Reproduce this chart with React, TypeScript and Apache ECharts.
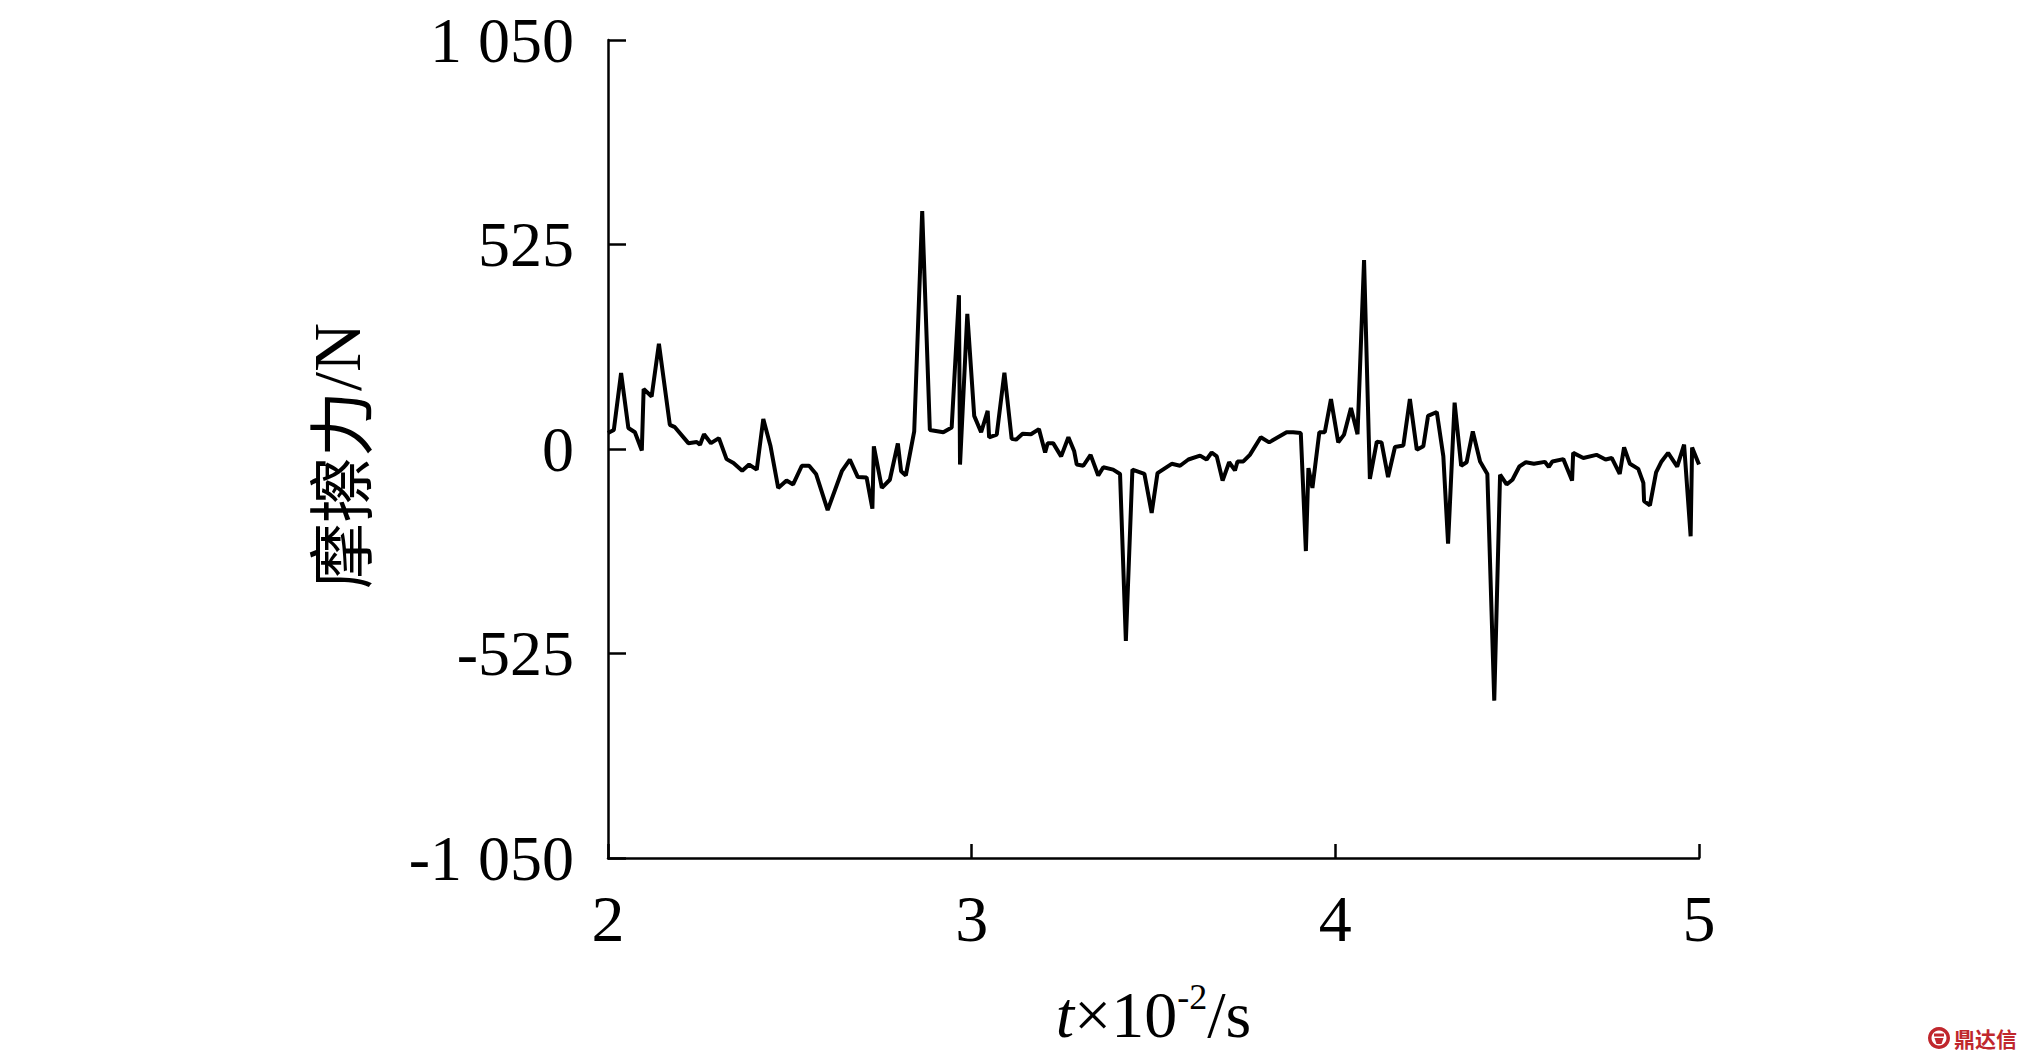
import React, { useEffect, useRef } from "react";
import * as echarts from "echarts";

// time in units of 10^-2 s
const timeValues: number[] = [
  2.000, 2.016, 2.036, 2.056, 2.074, 2.093, 2.098, 2.120, 2.140, 2.170,
  2.184, 2.221, 2.244, 2.253, 2.264, 2.283, 2.305, 2.326, 2.345, 2.369,
  2.388, 2.409, 2.427, 2.447, 2.468, 2.491, 2.509, 2.533, 2.553, 2.572,
  2.604, 2.643, 2.665, 2.687, 2.711, 2.727, 2.731, 2.753, 2.775, 2.797,
  2.806, 2.819, 2.842, 2.864, 2.885, 2.922, 2.945, 2.965, 2.968, 2.988,
  3.007, 3.026, 3.044, 3.048, 3.069, 3.090, 3.110, 3.122, 3.140, 3.163,
  3.185, 3.202, 3.209, 3.224, 3.246, 3.266, 3.282, 3.289, 3.307, 3.327,
  3.348, 3.362, 3.389, 3.408, 3.424, 3.442, 3.475, 3.495, 3.511, 3.550,
  3.573, 3.596, 3.628, 3.646, 3.660, 3.674, 3.690, 3.708, 3.724, 3.731,
  3.747, 3.765, 3.795, 3.818, 3.866, 3.884, 3.905, 3.919, 3.926, 3.937,
  3.956, 3.971, 3.988, 4.008, 4.024, 4.043, 4.061, 4.079, 4.095, 4.114,
  4.127, 4.145, 4.164, 4.187, 4.205, 4.224, 4.242, 4.255, 4.279, 4.297,
  4.310, 4.328, 4.346, 4.361, 4.378, 4.398, 4.418, 4.437, 4.453, 4.471,
  4.487, 4.506, 4.524, 4.546, 4.576, 4.587, 4.597, 4.627, 4.651, 4.654,
  4.682, 4.718, 4.743, 4.760, 4.782, 4.794, 4.810, 4.833, 4.847, 4.849,
  4.865, 4.882, 4.897, 4.915, 4.940, 4.959, 4.977, 4.981, 5.000,
];

// friction force, N
const forceValues: number[] = [
  41, 49, 195, 54, 43, -4, 154, 135, 270, 62,
  56, 15, 18, 11, 38, 15, 28, -26, -36, -56,
  -40, -53, 77, 7, -100, -81, -91, -43, -43, -64,
  -157, -57, -27, -72, -73, -153, 7, -100, -79, 14,
  -57, -68, 45, 611, 49, 43, 55, 395, -40, 347,
  85, 43, 98, 30, 37, 196, 26, 24, 39, 38,
  51, -9, 15, 15, -19, 30, -6, -40, -43, -15,
  -68, -47, -53, -64, -493, -53, -64, -164, -62, -38,
  -43, -27, -17, -27, -9, -19, -81, -34, -55, -32,
  -32, -15, 30, 17, 43, 43, 41, -262, -49, -100,
  43, 43, 128, 17, 37, 105, 38, 485, -77, 19,
  17, -72, 5, 9, 128, -2, 7, 85, 95, -19,
  -243, 119, -43, -34, 45, -32, -64, -646, -66, -91,
  -79, -45, -34, -38, -33, -46, -32, -26, -81, -10,
  -23, -15, -27, -23, -64, 4, -38, -51, -87, -134,
  -145, -60, -32, -10, -45, 11, -224, 4, -40,
];

const xMin = 2;
const xMax = 5;
const xStep = 1;
const yMin = -1050;
const yMax = 1050;
const yStep = 525;

const xName = "{i|t}{n|×10}{s|-2}{n|/s}";
const yName = "{c|摩擦力}{e|/N}";

function formatThousands(v: number): string {
  const s = Math.abs(v).toString().replace(/\B(?=(\d{3})+(?!\d))/g, " ");
  return (v < 0 ? "-" : "") + s;
}

export default function App() {
  const ref = useRef<HTMLDivElement>(null);

  useEffect(() => {
    if (!ref.current) return;
    const chart = echarts.init(ref.current, null, { renderer: "svg" });
    const serif = '"Liberation Serif", "Times New Roman", serif';
    const cjk = '"Noto Sans CJK SC", "Noto Sans CJK JP", sans-serif';
    const axisLineStyle = { color: "#000", width: 2.5 };
    const data = timeValues.map((t, i) => [t, forceValues[i]]);

    chart.setOption({
      animation: false,
      backgroundColor: "#ffffff",
      grid: {
        left: 608,
        right: 332,
        top: 40,
        bottom: 205,
        containLabel: false,
        outerBoundsMode: "none",
      },
      xAxis: {
        type: "value",
        min: xMin,
        max: xMax,
        interval: xStep,
        axisLine: { show: true, onZero: false, lineStyle: axisLineStyle },
        axisTick: { show: true, inside: true, length: 14, lineStyle: axisLineStyle },
        axisLabel: {
          margin: 27,
          color: "#000",
          fontFamily: serif,
          fontSize: 66,
          lineHeight: 66,
        },
        splitLine: { show: false },
        name: xName,
        nameLocation: "middle",
        nameGap: 121,
        nameTextStyle: {
          color: "#000",
          rich: {
            i: { fontFamily: serif, fontStyle: "italic", fontSize: 66, lineHeight: 70, color: "#000" },
            n: { fontFamily: serif, fontSize: 66, lineHeight: 70, color: "#000" },
            s: { fontFamily: serif, fontSize: 36, lineHeight: 52, verticalAlign: "top", color: "#000" },
          },
        },
      },
      yAxis: {
        type: "value",
        min: yMin,
        max: yMax,
        interval: yStep,
        axisLine: { show: true, onZero: false, lineStyle: axisLineStyle },
        axisTick: { show: true, inside: true, length: 18, lineStyle: axisLineStyle },
        axisLabel: {
          margin: 34,
          color: "#000",
          fontFamily: serif,
          fontSize: 64,
          formatter: (v: number) => formatThousands(v),
        },
        splitLine: { show: false },
        name: yName,
        nameLocation: "middle",
        nameGap: 237,
        nameTextStyle: {
          color: "#000",
          padding: [0, 14, 0, 0],
          rich: {
            c: { fontFamily: cjk, fontSize: 66, lineHeight: 68, color: "#000" },
            e: { fontFamily: serif, fontSize: 68, lineHeight: 68, color: "#000" },
          },
        },
      },
      series: [
        {
          type: "line",
          data,
          showSymbol: false,
          symbol: "none",
          lineStyle: { color: "#000", width: 4 },
          silent: true,
        },
      ],
      graphic: [
        {
          type: "group",
          left: 1928,
          top: 1027,
          children: [
            { type: "circle", shape: { cx: 11, cy: 11, r: 11 }, style: { fill: "#c0272d" } },
            { type: "circle", shape: { cx: 11, cy: 11, r: 7.5 }, style: { fill: "#fff" } },
            { type: "rect", shape: { x: 6, y: 6.5, width: 10, height: 3 }, style: { fill: "#c0272d" } },
            { type: "polygon", shape: { points: [[6.5, 11], [15.5, 11], [13.5, 17], [8.5, 17]] }, style: { fill: "#c0272d" } },
            {
              type: "text",
              x: 26,
              y: 11,
              style: {
                text: "鼎达信",
                fill: "#c0272d",
                font: 'bold 21px "Noto Sans CJK SC"',
                verticalAlign: "middle",
              },
            },
          ],
        },
      ],
    });

    return () => chart.dispose();
  }, []);

  return (
    <div
      ref={ref}
      style={{ position: "absolute", left: 0, top: 0, width: 2031, height: 1063 }}
    />
  );
}
